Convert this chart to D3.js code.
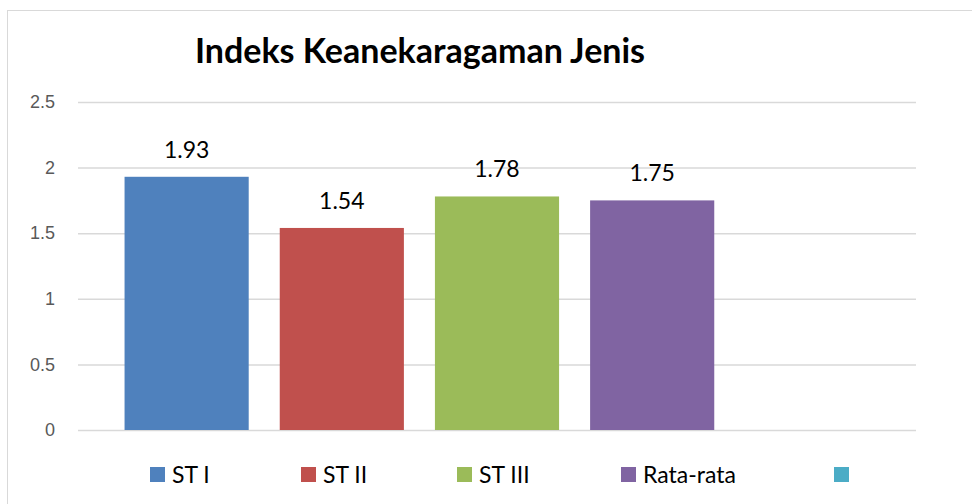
<!DOCTYPE html>
<html>
<head>
<meta charset="utf-8">
<script src="https://cdn.jsdelivr.net/npm/d3@7"></script>
<style>
  body { margin: 0; background: #fff; }
  svg { display: block; font-family: Lato, 'Open Sans', sans-serif; }
</style>
</head>
<body>
<div id="chart"></div>
<script>
const categories = ['ST I', 'ST II', 'ST III', 'Rata-rata', ''];
const values = [1.93, 1.54, 1.78, 1.75, null];
const colors = ['#4F81BD', '#C0504D', '#9BBB59', '#8064A2', '#4BACC6'];
const yTicks = [0, 0.5, 1, 1.5, 2, 2.5];
const title = 'Indeks Keanekaragaman Jenis';

const width = 972;
const height = 504;
const margin = { top: 102, right: 56, bottom: 74, left: 78 };

const svg = d3.select('#chart')
  .append('svg')
  .attr('width', width)
  .attr('height', height);

// chart frame
svg.append('rect')
  .attr('x', 7.5).attr('y', 10.5)
  .attr('width', 980).attr('height', 500)
  .attr('fill', '#fff')
  .attr('stroke', '#d9d9d9');

const x = d3.scaleBand()
  .domain(categories)
  .range([margin.left, width - margin.right])
  .paddingInner(0.2)
  .paddingOuter(0.3);

const y = d3.scaleLinear()
  .domain([0, 2.5])
  .range([height - margin.bottom, margin.top]);

// gridlines + tick labels
const yAxis = svg.append('g')
  .attr('transform', 'translate(' + margin.left + ',0)')
  .call(d3.axisLeft(y).tickValues(yTicks).tickFormat(d => d)
    .tickSizeInner(-(width - margin.left - margin.right)).tickSizeOuter(0).tickPadding(23));
yAxis.select('.domain').remove();
yAxis.selectAll('.tick line').attr('stroke', '#d9d9d9').attr('stroke-width', 1.5);
yAxis.selectAll('.tick text')
  .attr('fill', '#595959')
  .style('font-size', '18px');

const data = categories.map((c, i) => ({ name: c, value: values[i], color: colors[i] }));
const withValue = data.filter(d => d.value != null);

svg.selectAll('.bar')
  .data(withValue)
  .enter().append('rect')
  .attr('class', 'bar')
  .attr('x', d => x(d.name))
  .attr('y', d => y(d.value))
  .attr('width', x.bandwidth())
  .attr('height', d => y(0) - y(d.value))
  .attr('fill', d => d.color);

svg.selectAll('.label')
  .data(withValue)
  .enter().append('text')
  .attr('class', 'label')
  .attr('x', d => x(d.name) + x.bandwidth() / 2)
  .attr('y', d => y(d.value) - 19)
  .attr('text-anchor', 'middle')
  .style('font-size', '23px')
  .attr('fill', '#000')
  .text(d => d.value);

svg.append('text')
  .attr('x', 420)
  .attr('y', 63)
  .attr('text-anchor', 'middle')
  .style('font-size', '34px')
  .style('font-weight', 'bold')
  .attr('fill', '#000')
  .text(title);

// legend
const legendX = [150, 301, 457, 621, 834];
const legend = svg.selectAll('.legend')
  .data(data)
  .enter().append('g')
  .attr('class', 'legend')
  .attr('transform', (d, i) => 'translate(' + legendX[i] + ',467)');

legend.append('rect')
  .attr('width', 15).attr('height', 15)
  .attr('fill', d => d.color);

legend.append('text')
  .attr('x', 22)
  .attr('y', 15.5)
  .style('font-size', '23px')
  .attr('fill', '#000')
  .text(d => d.name);
</script>
</body>
</html>
